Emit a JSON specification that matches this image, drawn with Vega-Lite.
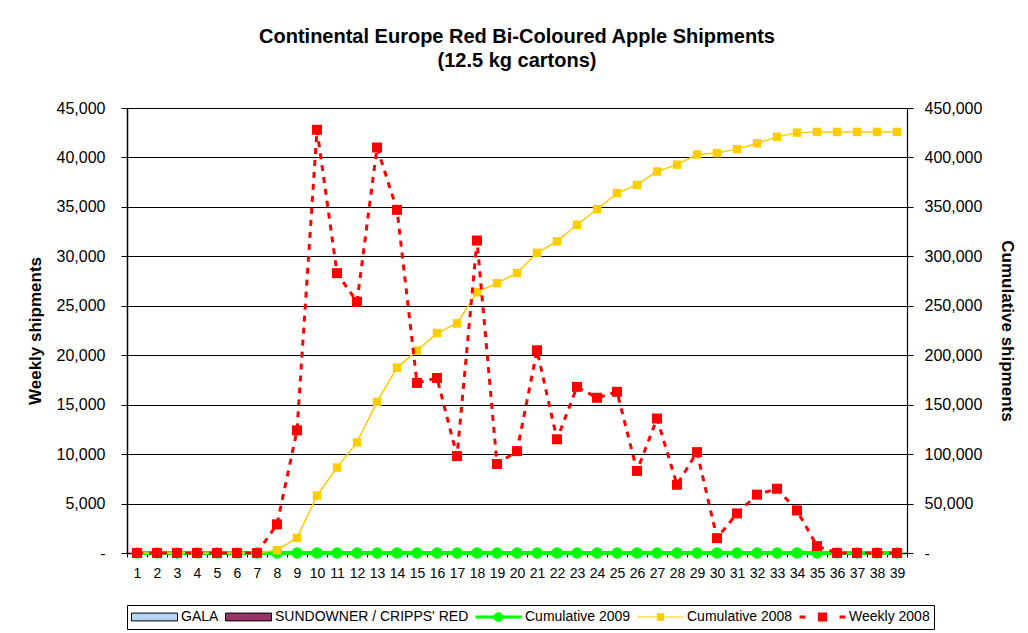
{
  "$schema": "https://vega.github.io/schema/vega-lite/v6.json",
  "width": 780,
  "height": 445,
  "autosize": {"type": "none"},
  "padding": {"left": 127, "top": 108, "right": 121, "bottom": 80},
  "background": "white",
  "title": {
    "text": ["Continental Europe Red Bi-Coloured Apple Shipments", "(12.5 kg cartons)"],
    "font": "Liberation Sans",
    "fontSize": 20,
    "fontWeight": "bold",
    "color": "#000",
    "lineHeight": 24,
    "frame": "group",
    "anchor": "middle",
    "offset": 29
  },
  "data": {
    "values": [
      {"week": 1, "weekly2008": 0, "cum2008": 0, "cum2009": 0},
      {"week": 2, "weekly2008": 0, "cum2008": 0, "cum2009": 0},
      {"week": 3, "weekly2008": 0, "cum2008": 0, "cum2009": 0},
      {"week": 4, "weekly2008": 0, "cum2008": 0, "cum2009": 0},
      {"week": 5, "weekly2008": 0, "cum2008": 0, "cum2009": 0},
      {"week": 6, "weekly2008": 0, "cum2008": 0, "cum2009": 0},
      {"week": 7, "weekly2008": 0, "cum2008": 0, "cum2009": 0},
      {"week": 8, "weekly2008": 2900, "cum2008": 2900, "cum2009": 0},
      {"week": 9, "weekly2008": 12400, "cum2008": 15300, "cum2009": 0},
      {"week": 10, "weekly2008": 42800, "cum2008": 58100, "cum2009": 0},
      {"week": 11, "weekly2008": 28300, "cum2008": 86400, "cum2009": 0},
      {"week": 12, "weekly2008": 25400, "cum2008": 111800, "cum2009": 0},
      {"week": 13, "weekly2008": 41000, "cum2008": 152800, "cum2009": 0},
      {"week": 14, "weekly2008": 34700, "cum2008": 187500, "cum2009": 0},
      {"week": 15, "weekly2008": 17200, "cum2008": 204700, "cum2009": 0},
      {"week": 16, "weekly2008": 17700, "cum2008": 222400, "cum2009": 0},
      {"week": 17, "weekly2008": 9800, "cum2008": 232200, "cum2009": 0},
      {"week": 18, "weekly2008": 31600, "cum2008": 263800, "cum2009": 0},
      {"week": 19, "weekly2008": 9000, "cum2008": 272800, "cum2009": 0},
      {"week": 20, "weekly2008": 10300, "cum2008": 283100, "cum2009": 0},
      {"week": 21, "weekly2008": 20500, "cum2008": 303600, "cum2009": 0},
      {"week": 22, "weekly2008": 11500, "cum2008": 315100, "cum2009": 0},
      {"week": 23, "weekly2008": 16800, "cum2008": 331900, "cum2009": 0},
      {"week": 24, "weekly2008": 15700, "cum2008": 347600, "cum2009": 0},
      {"week": 25, "weekly2008": 16300, "cum2008": 363900, "cum2009": 0},
      {"week": 26, "weekly2008": 8300, "cum2008": 372200, "cum2009": 0},
      {"week": 27, "weekly2008": 13600, "cum2008": 385800, "cum2009": 0},
      {"week": 28, "weekly2008": 6900, "cum2008": 392700, "cum2009": 0},
      {"week": 29, "weekly2008": 10200, "cum2008": 402900, "cum2009": 0},
      {"week": 30, "weekly2008": 1500, "cum2008": 404400, "cum2009": 0},
      {"week": 31, "weekly2008": 4000, "cum2008": 408400, "cum2009": 0},
      {"week": 32, "weekly2008": 5900, "cum2008": 414300, "cum2009": 0},
      {"week": 33, "weekly2008": 6500, "cum2008": 420800, "cum2009": 0},
      {"week": 34, "weekly2008": 4300, "cum2008": 425100, "cum2009": 0},
      {"week": 35, "weekly2008": 700, "cum2008": 425800, "cum2009": 0},
      {"week": 36, "weekly2008": 0, "cum2008": 425800, "cum2009": 0},
      {"week": 37, "weekly2008": 0, "cum2008": 425800, "cum2009": 0},
      {"week": 38, "weekly2008": 0, "cum2008": 425800, "cum2009": 0},
      {"week": 39, "weekly2008": 0, "cum2008": 425800, "cum2009": 0}
    ]
  },
  "encoding": {
    "x": {
      "field": "week",
      "type": "ordinal",
      "scale": {"type": "band", "paddingInner": 0, "paddingOuter": 0},
      "axis": {
        "title": null,
        "labelAngle": 0,
        "tickBand": "extent",
        "tickSize": 4,
        "tickColor": "#000",
        "domainColor": "#000",
        "domainWidth": 1.5,
        "labelFont": "Liberation Sans",
        "labelFontSize": 14,
        "labelColor": "#000",
        "labelPadding": 9,
        "grid": false,
        "zindex": 0
      }
    }
  },
  "layer": [
    {
      "encoding": {
        "y": {
          "type": "quantitative",
          "scale": {"domain": [0, 450000], "nice": false, "zero": true},
          "axis": {
            "orient": "right",
            "title": "Cumulative shipments",
            "values": [0, 50000, 100000, 150000, 200000, 250000, 300000, 350000, 400000, 450000],
            "labelExpr": "datum.value === 0 ? '-' : format(datum.value, ',')",
            "grid": false,
            "domainColor": "#000",
            "domainWidth": 1.2,
            "tickColor": "#000",
            "tickSize": 6,
            "labelPadding": 11,
            "labelFont": "Liberation Sans",
            "labelFontSize": 16,
            "labelColor": "#000",
            "titleFont": "Liberation Sans",
            "titleFontSize": 17,
            "titleFontWeight": "bold",
            "titleColor": "#000",
            "titlePadding": 16
          }
        }
      },
      "layer": [
        {
          "mark": {"type": "line", "color": "#00ff00", "strokeWidth": 4},
          "encoding": {"y": {"field": "cum2009", "type": "quantitative"}}
        },
        {
          "mark": {"type": "point", "shape": "circle", "filled": true, "size": 130, "color": "#00ff00", "opacity": 1},
          "encoding": {"y": {"field": "cum2009", "type": "quantitative"}}
        },
        {
          "mark": {"type": "line", "color": "#ffcc00", "strokeWidth": 1.5},
          "encoding": {"y": {"field": "cum2008", "type": "quantitative"}}
        },
        {
          "mark": {"type": "point", "shape": "square", "filled": true, "size": 72, "color": "#ffcc00", "opacity": 1},
          "encoding": {"y": {"field": "cum2008", "type": "quantitative"}}
        }
      ]
    },
    {
      "encoding": {
        "y": {
          "type": "quantitative",
          "scale": {"domain": [0, 45000], "nice": false, "zero": true},
          "axis": {
            "orient": "left",
            "title": "Weekly shipments",
            "values": [0, 5000, 10000, 15000, 20000, 25000, 30000, 35000, 40000, 45000],
            "labelExpr": "datum.value === 0 ? '-' : format(datum.value, ',')",
            "grid": true,
            "gridColor": "#000",
            "gridOpacity": 1,
            "gridWidth": 1,
            "domainColor": "#000",
            "domainWidth": 1.5,
            "tickColor": "#000",
            "tickSize": 6,
            "labelPadding": 16,
            "labelFont": "Liberation Sans",
            "labelFontSize": 16,
            "labelColor": "#000",
            "titleFont": "Liberation Sans",
            "titleFontSize": 17,
            "titleFontWeight": "bold",
            "titleColor": "#000",
            "titlePadding": 12
          }
        }
      },
      "layer": [
        {
          "mark": {"type": "line", "color": "#ff0000", "strokeWidth": 3, "strokeDash": [6, 6]},
          "encoding": {"y": {"field": "weekly2008", "type": "quantitative"}}
        },
        {
          "mark": {"type": "point", "shape": "square", "filled": true, "size": 100, "color": "#ff0000", "opacity": 1},
          "encoding": {"y": {"field": "weekly2008", "type": "quantitative"}}
        }
      ]
    },
    {
      "data": {
        "values": [
          {"series": "GALA"},
          {"series": "SUNDOWNER / CRIPPS' RED"},
          {"series": "Cumulative 2009"},
          {"series": "Cumulative 2008"},
          {"series": "Weekly 2008"}
        ]
      },
      "transform": [{"filter": "false"}],
      "mark": {"type": "point", "filled": true},
      "encoding": {
        "x": null,
        "color": {
          "field": "series",
          "type": "nominal",
          "scale": {
            "domain": ["GALA", "SUNDOWNER / CRIPPS' RED", "Cumulative 2009", "Cumulative 2008", "Weekly 2008"],
            "range": ["#b4d6f3", "#993366", "#00ff00", "#ffcc00", "#ff0000"]
          },
          "legend": {
            "title": null,
            "orient": "bottom",
            "direction": "horizontal",
            "offset": 25,
            "padding": 4,
            "strokeColor": "#000",
            "fillColor": "#fff",
            "symbolSize": 2116,
            "clipHeight": 16,
            "labelFont": "Liberation Sans",
            "labelFontSize": 14,
            "labelLimit": 400,
            "labelColor": "#000",
            "labelOffset": 3,
            "columnPadding": 6,
            "symbolOpacity": 1,
            "encode": {
              "symbols": {
                "update": {
                  "stroke": [
                    {"test": "datum.value == 'GALA' || indexof(datum.value, 'SUNDOWNER') >= 0", "value": "#000"},
                    {"value": "transparent"}
                  ],
                  "strokeWidth": {"value": 1}
                }
              }
            }
          }
        },
        "shape": {
          "field": "series",
          "type": "nominal",
          "scale": {
            "domain": ["GALA", "SUNDOWNER / CRIPPS' RED", "Cumulative 2009", "Cumulative 2008", "Weekly 2008"],
            "range": [
              "M-1,-0.17H1V0.17H-1Z",
              "M-1,-0.17H1V0.17H-1Z",
              "M-1,-0.065H-0.2V0.065H-1Z M0.2,-0.065H1V0.065H0.2Z M-0.21,0A0.21,0.21 0 1,1 0.21,0A0.21,0.21 0 1,1 -0.21,0Z",
              "M-1,-0.025H-0.16V0.025H-1Z M0.16,-0.025H1V0.025H0.16Z M-0.16,-0.16H0.16V0.16H-0.16Z",
              "M-1,-0.065H-0.74V0.065H-1Z M-0.2,-0.2H0.2V0.2H-0.2Z M0.74,-0.065H1V0.065H0.74Z"
            ]
          },
          "legend": {
            "title": null,
            "orient": "bottom",
            "direction": "horizontal",
            "offset": 25,
            "padding": 4,
            "strokeColor": "#000",
            "fillColor": "#fff",
            "symbolSize": 2116,
            "clipHeight": 16,
            "labelFont": "Liberation Sans",
            "labelFontSize": 14,
            "labelLimit": 400,
            "labelColor": "#000",
            "labelOffset": 3,
            "columnPadding": 6,
            "symbolOpacity": 1
          }
        }
      }
    }
  ],
  "resolve": {"scale": {"y": "independent"}},
  "config": {
    "view": {"stroke": null}
  }
}
